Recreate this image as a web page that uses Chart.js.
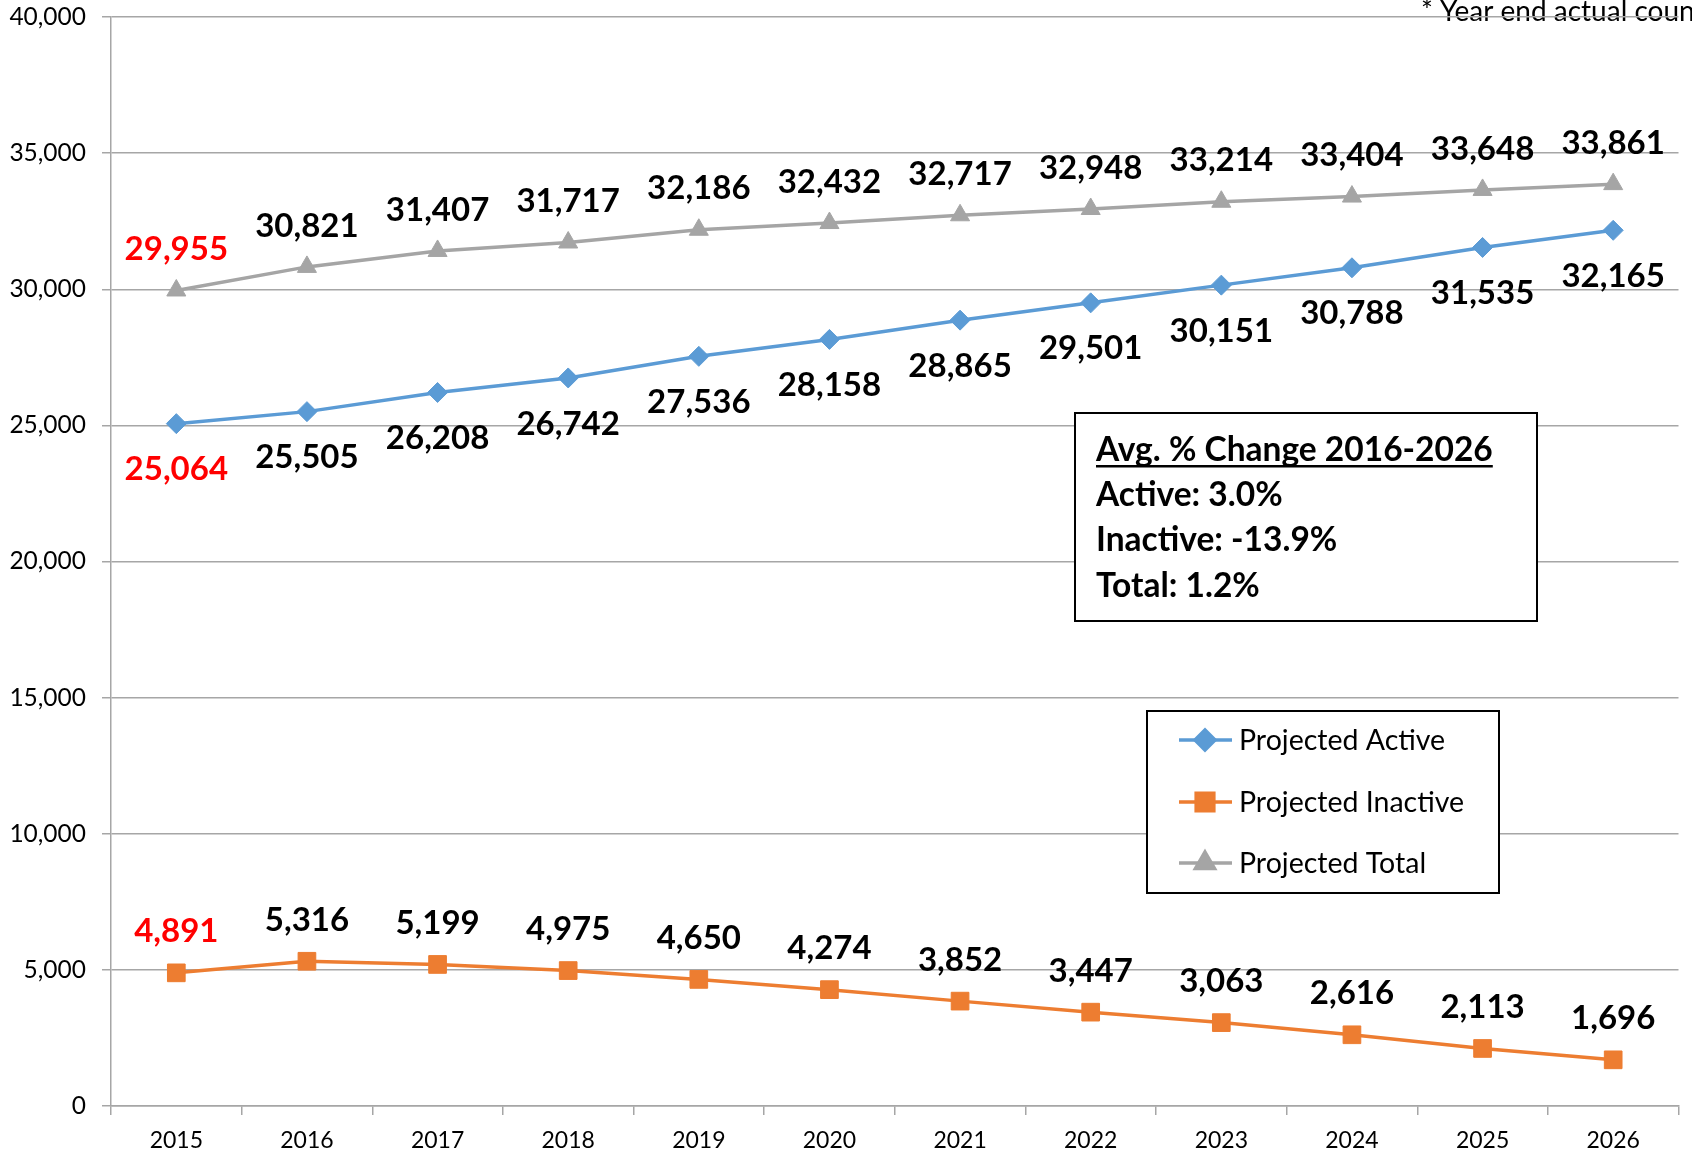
<!DOCTYPE html>
<html>
<head>
<meta charset="utf-8">
<script src="https://cdn.jsdelivr.net/npm/chart.js@4.4.0/dist/chart.umd.min.js"></script>
<style>
  body { margin: 0; background: #fff; }
  #wrap { width: 1692px; height: 1153px; position: relative; }
</style>
</head>
<body>
<div id="wrap"><canvas id="grafico"></canvas></div>
<script>
const anos = ['2015', '2016', '2017', '2018', '2019', '2020', '2021', '2022', '2023', '2024', '2025', '2026'];
const ativos = [25064, 25505, 26208, 26742, 27536, 28158, 28865, 29501, 30151, 30788, 31535, 32165];
const inativos = [4891, 5316, 5199, 4975, 4650, 4274, 3852, 3447, 3063, 2616, 2113, 1696];
const totais = [29955, 30821, 31407, 31717, 32186, 32432, 32717, 32948, 33214, 33404, 33648, 33861];
const yTicks = [0, 5000, 10000, 15000, 20000, 25000, 30000, 35000, 40000];

const nota = '* Year end actual count';
const caixaTexto = ['Avg. % Change 2016-2026', 'Active: 3.0%', 'Inactive: -13.9%', 'Total: 1.2%'];

const AZUL = '#5B9BD5';
const LARANJA = '#ED7D31';
const CINZA = '#A5A5A5';
const GRADE = '#A6A6A6';
const FONTE = 'Lato, "Open Sans", sans-serif';

function formatNum(v) {
  return v.toLocaleString('en-US');
}

// rotulos de dados (primeiro ano em vermelho = valor real)
const rotulos = {
  id: 'rotulos',
  afterDatasetsDraw(chart) {
    const ctx = chart.ctx;
    ctx.save();
    ctx.font = 'bold 33px ' + FONTE;
    ctx.textAlign = 'center';
    ctx.textBaseline = 'middle';
    chart.data.datasets.forEach((ds, i) => {
      const meta = chart.getDatasetMeta(i);
      meta.data.forEach((pt, j) => {
        ctx.fillStyle = j === 0 ? '#FF0000' : '#000';
        ctx.fillText(formatNum(ds.data[j]), pt.x, pt.y + ds.labelOffset);
      });
    });
    ctx.restore();
  }
};

// nota, caixa de texto e legenda
const extras = {
  id: 'extras',
  beforeDraw(chart) {
    const ctx = chart.ctx;
    ctx.save();
    ctx.fillStyle = '#000';
    ctx.font = '28px ' + FONTE;
    ctx.textBaseline = 'alphabetic';
    ctx.fillText(nota, 1421, 21);
    ctx.restore();
  },
  afterDraw(chart) {
    const ctx = chart.ctx;
    ctx.save();

    // caixa de variacao media
    ctx.fillStyle = '#fff';
    ctx.fillRect(1075, 413, 462, 208);
    ctx.strokeStyle = '#000';
    ctx.lineWidth = 2;
    ctx.strokeRect(1075, 413, 462, 208);
    ctx.fillStyle = '#000';
    ctx.font = 'bold 33.5px ' + FONTE;
    ctx.textBaseline = 'middle';
    ctx.textAlign = 'left';
    const linhasY = [450, 495, 540, 586];
    caixaTexto.forEach((t, i) => {
      ctx.fillText(t, 1096, linhasY[i]);
      if (i === 0) {
        const w = ctx.measureText(t).width;
        ctx.fillRect(1096, linhasY[i] + 15, w, 2.5);
      }
    });

    // legenda
    ctx.fillStyle = '#fff';
    ctx.fillRect(1147, 711, 352, 182);
    ctx.strokeRect(1147, 711, 352, 182);
    const itensY = [740, 802, 863];
    ctx.font = '28.5px ' + FONTE;
    chart.data.datasets.forEach((ds, i) => {
      const y = itensY[i];
      ctx.strokeStyle = ds.borderColor;
      ctx.lineWidth = 3.5;
      ctx.beginPath();
      ctx.moveTo(1179, y);
      ctx.lineTo(1232, y);
      ctx.stroke();
      Chart.helpers.drawPoint(ctx, {
        pointStyle: ds.pointStyle,
        radius: ds.pointRadius,
        borderWidth: 1
      }, 1205, y);
      ctx.fillStyle = ds.borderColor;
      ctx.fill();
      ctx.fillStyle = '#000';
      ctx.fillText(ds.label, 1239, y + 1);
    });
    ctx.restore();
  }
};

new Chart(document.getElementById('grafico'), {
  type: 'line',
  data: {
    labels: anos,
    datasets: [
      {
        label: 'Projected Active',
        data: ativos,
        borderColor: AZUL,
        backgroundColor: AZUL,
        pointStyle: 'rectRot',
        pointRadius: 10,
        labelOffset: 46
      },
      {
        label: 'Projected Inactive',
        data: inativos,
        borderColor: LARANJA,
        backgroundColor: LARANJA,
        pointStyle: 'rect',
        pointRadius: 12.5,
        labelOffset: -41
      },
      {
        label: 'Projected Total',
        data: totais,
        borderColor: CINZA,
        backgroundColor: CINZA,
        pointStyle: 'triangle',
        pointRadius: 11,
        labelOffset: -41
      }
    ]
  },
  options: {
    responsive: true,
    maintainAspectRatio: false,
    animation: false,
    elements: {
      line: { borderWidth: 3.5, tension: 0, fill: false },
      point: { borderWidth: 1, hoverRadius: 10 }
    },
    layout: { padding: { top: 17, right: 0, left: 0, bottom: 0 } },
    plugins: {
      legend: { display: false },
      tooltip: { enabled: false }
    },
    scales: {
      x: {
        offset: true,
        grid: {
          offset: true,
          drawOnChartArea: false,
          drawTicks: true,
          tickLength: 9,
          color: GRADE,
          lineWidth: 1.5
        },
        border: { display: true, color: GRADE, width: 1.5 },
        ticks: {
          color: '#000',
          font: { family: FONTE, size: 23 },
          padding: 12,
          maxRotation: 0
        },
        afterFit(scale) {
          scale.height = 47;
          scale.paddingLeft = 0;
          scale.paddingRight = 0;
        }
      },
      y: {
        min: 0,
        max: 40000,
        afterBuildTicks(scale) {
          scale.ticks = yTicks.map(v => ({ value: v }));
        },
        grid: {
          color: GRADE,
          lineWidth: 1.5,
          tickLength: 9
        },
        border: { display: true, color: GRADE, width: 1.5 },
        ticks: {
          color: '#000',
          font: { family: FONTE, size: 24.5 },
          padding: 16,
          callback: v => formatNum(v)
        },
        afterFit(scale) {
          scale.width = 111;
          scale.paddingTop = 0;
          scale.paddingBottom = 0;
        }
      }
    }
  },
  plugins: [rotulos, extras]
});
</script>
</body>
</html>
